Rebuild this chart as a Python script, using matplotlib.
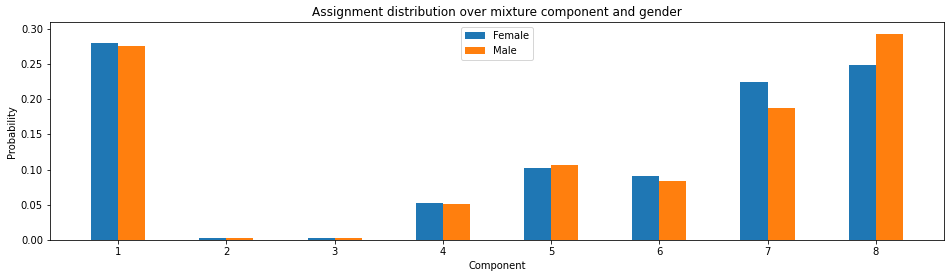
import matplotlib
matplotlib.use("Agg")
import matplotlib.pyplot as plt
import numpy as np

components = ["1", "2", "3", "4", "5", "6", "7", "8"]
female = [0.279, 0.003, 0.003, 0.052, 0.102, 0.091, 0.224, 0.248]
male = [0.275, 0.003, 0.003, 0.051, 0.106, 0.084, 0.188, 0.293]

fig = plt.figure(figsize=(950 / 72, 278 / 72), dpi=72)
ax = fig.add_axes([0.0526, 0.1367, 0.941, 0.783])
x = np.arange(len(components))
w = 0.25
ax.bar(x - w / 2, female, w, color="#1f77b4", label="Female")
ax.bar(x + w / 2, male, w, color="#ff7f0e", label="Male")
ax.set_xticks(x)
ax.set_xticklabels(components)
ax.set_xlim(-0.63, len(components) - 1 + 0.63)
ax.set_ylim(0, 0.309)
ax.set_yticks([0, 0.05, 0.10, 0.15, 0.20, 0.25, 0.30])
ax.set_yticklabels(["0.00", "0.05", "0.10", "0.15", "0.20", "0.25", "0.30"])
ax.set_xlabel("Component")
ax.set_ylabel("Probability")
ax.set_title("Assignment distribution over mixture component and gender")
ax.legend(loc="upper center")
fig.savefig("out.png", dpi=72)
